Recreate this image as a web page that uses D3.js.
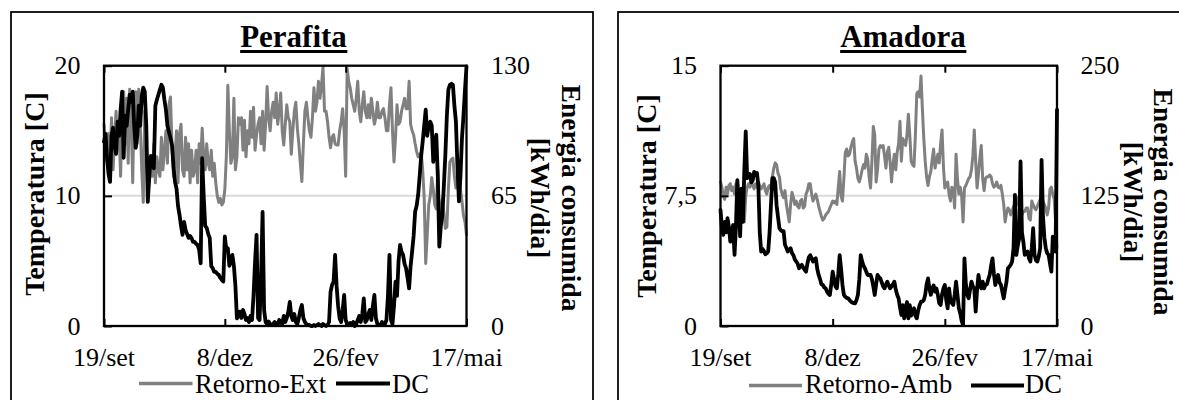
<!DOCTYPE html>
<html><head><meta charset="utf-8">
<script src="https://cdn.jsdelivr.net/npm/d3@7"></script>
<style>
body{margin:0;background:#fff}
svg{display:block;font-family:"Liberation Serif","Times New Roman",serif}
</style>
</head><body>
<svg id="c" width="1179" height="400"></svg>
<script>
// ---- data (day index from 19/set) ----
const xTickDays = [0, 80, 160, 240];
const xTickLabels = ["19/set", "8/dez", "26/fev", "17/mai"];
const seriesNamesPerafita = ["Retorno-Ext", "DC"];
const seriesNamesAmadora = ["Retorno-Amb", "DC"];
const perafitaTempTicks = [0, 10, 20];
const perafitaDCTicks = [0, 65, 130];
const amadoraTempTicks = [0, 7.5, 15];
const amadoraDCTicks = [0, 125, 250];

const perafitaTemp = [
15.5,14.2,12.6,14.8,13.0,16.0,12.0,14.5,16.5,13.5,
15.0,11.5,16.8,18.0,14.0,17.5,12.5,18.2,16.0,11.0,
17.5,18.0,14.0,18.2,15.5,12.0,9.5,16.5,14.0,10.5,
11.0,12.5,11.5,14.0,11.0,13.0,12.0,11.5,14.5,12.0,
13.5,15.0,12.5,17.0,17.6,14.0,11.5,13.0,15.0,11.0,
14.8,15.5,12.0,11.5,14.5,12.0,14.0,11.0,13.5,11.5,
12.0,13.5,11.0,14.0,12.5,15.2,13.0,12.0,14.0,12.5,
12.0,13.5,11.5,12.5,11.0,10.0,9.5,9.8,9.3,9.5,
10.5,13.0,18.5,15.0,12.5,13.0,17.5,12.0,13.0,16.0,
15.5,16.0,13.5,15.8,13.0,15.0,14.0,16.5,14.5,16.8,
13.5,14.7,15.5,16.0,14.0,16.5,13.5,15.5,18.4,16.0,
15.0,16.5,17.2,16.0,17.9,15.5,16.5,17.9,15.0,13.9,
15.5,17.0,16.0,15.7,13.2,15.0,16.5,17.2,15.2,14.0,
12.5,11.1,14.0,16.5,17.2,16.0,15.0,14.5,16.0,18.3,
16.5,17.2,18.8,17.5,18.5,19.9,16.5,16.5,15.7,14.5,
13.7,14.5,14.7,14.0,13.9,13.9,15.0,15.7,16.7,15.0,
11.5,19.8,18.8,18.3,17.5,17.0,16.5,17.5,18.8,16.5,
15.7,17.0,18.0,16.5,16.0,17.0,16.0,17.5,16.5,15.5,
16.0,17.2,16.0,16.0,16.5,16.7,16.0,15.0,15.0,17.0,
18.3,15.0,12.6,14.5,17.0,15.5,15.7,16.5,17.0,17.5,
16.7,16.7,18.8,15.5,15.0,14.7,14.0,13.4,13.0,13.2,
13.3,12.0,9.8,4.8,7.0,9.3,10.0,11.4,10.5,9.3,
9.0,12.0,8.0,9.0,9.8,8.7,7.5,7.6,10.5,12.6,
12.8,12.9,11.5,10.6,11.5,11.9,10.5,9.6,8.5,8.0,7.0];

const perafitaDC = [
92,96,84,76,72,95,99,90,86,102,
95,108,117,84,105,100,108,115.5,112,117,
100,89,95,110,100,115,119,117,100,62,
75,85,80,78.8,110,113,115.5,118,120.5,119,
113,108,100,97,94,90.5,80,72,68.8,60,
55.5,50,45.5,52,48,46,44,45,43.8,42,
42,41,40.5,38,31.3,83.8,65,50,49,46,
44,30,28.8,27,27,26,25.5,24,23,22.2,
44.7,38,38.8,30,32,35.5,30,20,3.8,5,
7.2,4,8,6,3,4,2,5,3,15,
32,45.5,4,3,25,57,8,2,1,2.2,
1,0.5,1,2,1,0.5,3,2,1,5,
2,4,7,12,5,3,6,2,1,4,
8,10.5,4,2,1,0.5,0.5,0,0,0.5,
0,0.5,1,0.5,0,1,0.5,0,0.5,2,
17,20.5,22,35.5,20,10,3.8,2,8,15.5,
3,1,0.5,1.5,0.5,2,0,1,3,5,
2,6,13.8,2,3,6,8,3,10,15.5,
4,1,0.5,0.5,2,0.5,1,3,15,35.5,
3,1,10,22.2,15,32.2,40.5,37,35.5,31,
28.8,24,18.8,30,37.2,45,57.2,60,65.5,75,
85,92.2,100,108,95,100,102,100,82,90,
95.5,75,39.7,50,55.5,70,85.5,105,118,120.5,
121,120.5,110,102,80,62.2,75,93.8,105,118,129.7];

const amadoraTemp = [
8.3,8.0,7.5,7.3,8.0,7.6,8.1,8.2,7.8,8.0,
7.6,8.2,7.8,7.2,7.9,7.0,6.5,6.0,7.5,8.0,
8.2,8.0,8.3,8.1,7.9,8.2,8.0,8.3,8.1,7.9,
8.0,8.2,7.8,7.6,8.0,8.1,7.9,8.6,9.1,9.4,
9.3,8.8,8.6,7.9,7.6,7.4,7.8,7.0,6.5,6.0,
7.0,7.7,7.4,7.0,7.2,6.9,6.8,7.2,7.3,6.8,
6.9,7.6,7.8,8.2,8.2,7.6,7.2,7.4,7.6,7.3,
6.9,6.6,6.3,6.1,6.2,6.4,6.5,6.6,6.8,7.0,
7.2,7.1,7.2,7.0,8.0,8.9,7.5,7.2,8.5,10.0,
10.2,9.8,9.9,10.3,10.6,10.8,9.5,9.1,8.5,8.3,
8.6,9.0,9.3,9.1,9.9,9.6,8.6,7.95,9.5,11.5,
11.0,8.3,9.0,10.2,10.4,10.3,10.4,9.8,9.1,10.0,
10.3,9.4,8.3,9.3,9.9,9.0,10.0,10.5,11.8,9.5,
10.8,10.6,10.4,11.0,12.2,11.0,9.5,9.3,9.2,11.0,
13.4,13.5,13.2,14.4,12.5,10.8,9.5,8.6,8.1,8.6,
8.9,9.6,10.2,9.1,9.5,9.9,9.4,10.5,11.3,9.2,
7.95,8.2,8.3,7.6,7.2,8.0,7.9,6.8,9.9,8.5,
7.6,8.0,7.5,6.0,7.95,8.1,8.3,8.5,8.6,9.0,
9.8,11.3,9.5,7.95,8.8,9.7,10.4,8.5,7.8,8.5,
8.6,8.6,8.7,8.6,8.2,8.0,8.1,8.3,8.0,7.95,
8.1,7.6,7.0,6.0,6.5,6.8,6.7,6.4,6.6,6.9,
6.8,7.0,7.4,7.0,6.5,6.4,6.6,6.6,6.8,6.8,
6.2,6.1,7.2,7.0,6.8,6.7,6.9,7.1,7.3,7.4,
7.2,7.0,6.8,6.4,6.8,7.9,8.0,7.6,7.3,6.0,4.5];

const amadoraDC = [
111.5,94,87.5,100,90,103.5,95,81,90,97,
68.3,95,140,120,86,132,100,150,186.8,142,
144,146,138,140,148,146,147,135,90,71.5,
74,72,69,70,71.5,90,116.5,142,142,138,
116,105,94,92,91,91,78,75,71.5,73,
74.7,70,68,64,62,60,55.4,57,58.7,56,
54,52.2,60,66,68,65,62,64,65,55,
49,45,40,39.4,37,36.2,33,31,29.8,40,
52.2,45,38,36.2,50,68,55,39.4,29.8,28,
27,26.6,25,23.4,22.5,22,21.8,25,29.8,45,
68,62,58,55.4,52,49,49,49,45,38,
29.8,40,49,47,45.8,42,38,36.2,40,42.6,
39,36.2,38,40,42.6,35,30,26.6,18,10.6,
20,7.4,17,23,7.4,20,10,15,17,10,
7.4,15,20,23.4,23.4,25,30,40,45.8,36,
30,36,39,33,36,30,22,20.2,30,36,
39.4,25,17,36.2,25,22,20.2,30,42.6,30,
17,12,5,1,65,40,30,26.6,35,42.6,
38,36.2,13.8,35,49,40,36.2,42.6,36.2,39.4,
40,45,49,58,65,50,39.4,45,49,42,
39.4,33,26.6,35,42.6,55.4,57,58.7,62,74.7,
126,68.3,77,84,158,90,81,68.3,70,71.5,
65,61.9,75,93.9,68.3,63,61.9,67,74.7,159.6,
105,85,74.7,70,68.3,60,52.2,85.9,75,71.5,207.7];

// ---- layout / style ----
const GRAY = "#808080", BLACK = "#000", GRID = "#d9d9d9";
const panels = [
  { title: "Perafita", names: seriesNamesPerafita, temp: perafitaTemp, dc: perafitaDC,
    tTicks: perafitaTempTicks, eTicks: perafitaDCTicks,
    box: [11, 12, 582, 400], plot: [104, 466.5, 65.7, 326], titleX: 293.5,
    lLabX: 80.5, rLabX: 491, lTitleX: 44, lTitleY: 194, r1X: 562, r2X: 531, rTitleY: 198,
    leg: { g1: 139, g2: 192.5, gt: 195, b1: 336, b2: 390, bt: 392, ly: 383.5, ty: 392.8 } },
  { title: "Amadora", names: seriesNamesAmadora, temp: amadoraTemp, dc: amadoraDC,
    tTicks: amadoraTempTicks, eTicks: amadoraDCTicks,
    box: [618, 12, 582, 400], plot: [720.5, 1057, 65.7, 326], titleX: 903,
    lLabX: 697, rLabX: 1080.5, lTitleX: 656, lTitleY: 196, r1X: 1153.5, r2X: 1124, rTitleY: 202,
    leg: { g1: 749, g2: 802, gt: 805, b1: 971, b2: 1024, bt: 1025, ly: 385.5, ty: 393 } }
];

const svg = d3.select("#c");
const fmt = v => String(v).replace(".", ",");

panels.forEach(p => {
  const g = svg.append("g");
  const [px0, px1, py0, py1] = p.plot;
  const days = d3.range(p.temp.length);
  const x = d3.scaleLinear().domain([0, 240]).range([px0, px1]);
  const yT = d3.scaleLinear().domain([0, d3.max(p.tTicks)]).range([py1, py0]);
  const yE = d3.scaleLinear().domain([0, d3.max(p.eTicks)]).range([py1, py0]);

  // outer frame
  g.append("rect").attr("x", p.box[0]).attr("y", p.box[1]).attr("width", p.box[2]).attr("height", p.box[3])
    .attr("fill", "none").attr("stroke", "#000").attr("stroke-width", 1.75);

  // title + underline
  const t = g.append("text").attr("x", p.titleX).attr("y", 46.5).attr("text-anchor", "middle")
    .attr("font-size", 31).attr("font-weight", "bold").text(p.title);
  const bb = t.node().getBBox();
  g.append("line").attr("x1", bb.x).attr("x2", bb.x + bb.width).attr("y1", 51.5).attr("y2", 51.5)
    .attr("stroke", "#000").attr("stroke-width", 3);

  // gridlines (middle)
  g.selectAll(".grid").data(p.tTicks.slice(1, -1)).join("line")
    .attr("x1", px0).attr("x2", px1).attr("y1", d => yT(d)).attr("y2", d => yT(d))
    .attr("stroke", GRID).attr("stroke-width", 2);

  // series
  const lineT = d3.line().x(d => x(d)).y(d => yT(p.temp[d]));
  const lineE = d3.line().x(d => x(d)).y(d => yE(p.dc[d]));
  g.append("path").datum(days).attr("d", lineT).attr("fill", "none").attr("stroke", GRAY)
    .attr("stroke-width", 3).attr("stroke-linejoin", "round").attr("stroke-linecap", "round");
  g.append("path").datum(days).attr("d", lineE).attr("fill", "none").attr("stroke", BLACK)
    .attr("stroke-width", 3.8).attr("stroke-linejoin", "round").attr("stroke-linecap", "round");

  // plot border
  g.append("rect").attr("x", px0).attr("y", py0).attr("width", px1 - px0).attr("height", py1 - py0)
    .attr("fill", "none").attr("stroke", "#000").attr("stroke-width", 2.3);

  // x ticks (inside, bottom and top)
  const xAxisB = d3.axisBottom(x).tickValues(xTickDays).tickSize(-7).tickFormat("");
  const xAxisT = d3.axisTop(x).tickValues(xTickDays).tickSize(-7).tickFormat("");
  const gb = g.append("g").attr("transform", `translate(0,${py1})`).call(xAxisB);
  const gt = g.append("g").attr("transform", `translate(0,${py0})`).call(xAxisT);
  [gb, gt].forEach(a => { a.select(".domain").remove(); a.selectAll(".tick line").attr("stroke", "#000").attr("stroke-width", 2); });
  // left ticks inside
  const yAxisL = d3.axisLeft(yT).tickValues(p.tTicks).tickSize(-8).tickFormat("");
  const gl = g.append("g").attr("transform", `translate(${px0},0)`).call(yAxisL);
  gl.select(".domain").remove();
  gl.selectAll(".tick line").attr("stroke", "#000").attr("stroke-width", 2);

  // x labels
  g.selectAll(".xl").data(xTickDays).join("text")
    .attr("x", d => x(d)).attr("y", 365.5).attr("text-anchor", "middle").attr("font-size", 26)
    .text((d, i) => xTickLabels[i]);

  // left labels
  g.selectAll(".yl").data(p.tTicks).join("text")
    .attr("x", p.lLabX).attr("y", d => yT(d) + 8.6).attr("text-anchor", "end").attr("font-size", 26)
    .text(d => fmt(d));
  // right labels
  g.selectAll(".yr").data(p.eTicks).join("text")
    .attr("x", p.rLabX).attr("y", d => yE(d) + 8.6).attr("text-anchor", "start").attr("font-size", 26)
    .text(d => fmt(d));

  // axis titles
  g.append("text").attr("transform", `translate(${p.lTitleX},${p.lTitleY}) rotate(-90)`)
    .attr("text-anchor", "middle").attr("font-size", 28).attr("font-weight", "bold").text("Temperatura [C]");
  g.append("text").attr("transform", `translate(${p.r1X},${p.rTitleY}) rotate(90)`)
    .attr("text-anchor", "middle").attr("font-size", 27.5).attr("font-weight", "bold").text("Energia consumida");
  g.append("text").attr("transform", `translate(${p.r2X},${p.rTitleY}) rotate(90)`)
    .attr("text-anchor", "middle").attr("font-size", 27.5).attr("font-weight", "bold").text("[kWh/dia]");

  // legend
  const L = p.leg;
  g.append("line").attr("x1", L.g1).attr("x2", L.g2).attr("y1", L.ly).attr("y2", L.ly)
    .attr("stroke", GRAY).attr("stroke-width", 3.5);
  g.append("text").attr("x", L.gt).attr("y", L.ty).attr("font-size", 26.5).text(p.names[0]);
  g.append("line").attr("x1", L.b1).attr("x2", L.b2).attr("y1", L.ly).attr("y2", L.ly)
    .attr("stroke", BLACK).attr("stroke-width", 4);
  g.append("text").attr("x", L.bt).attr("y", L.ty).attr("font-size", 26.5).text(p.names[1]);
});
</script>
</body></html>
